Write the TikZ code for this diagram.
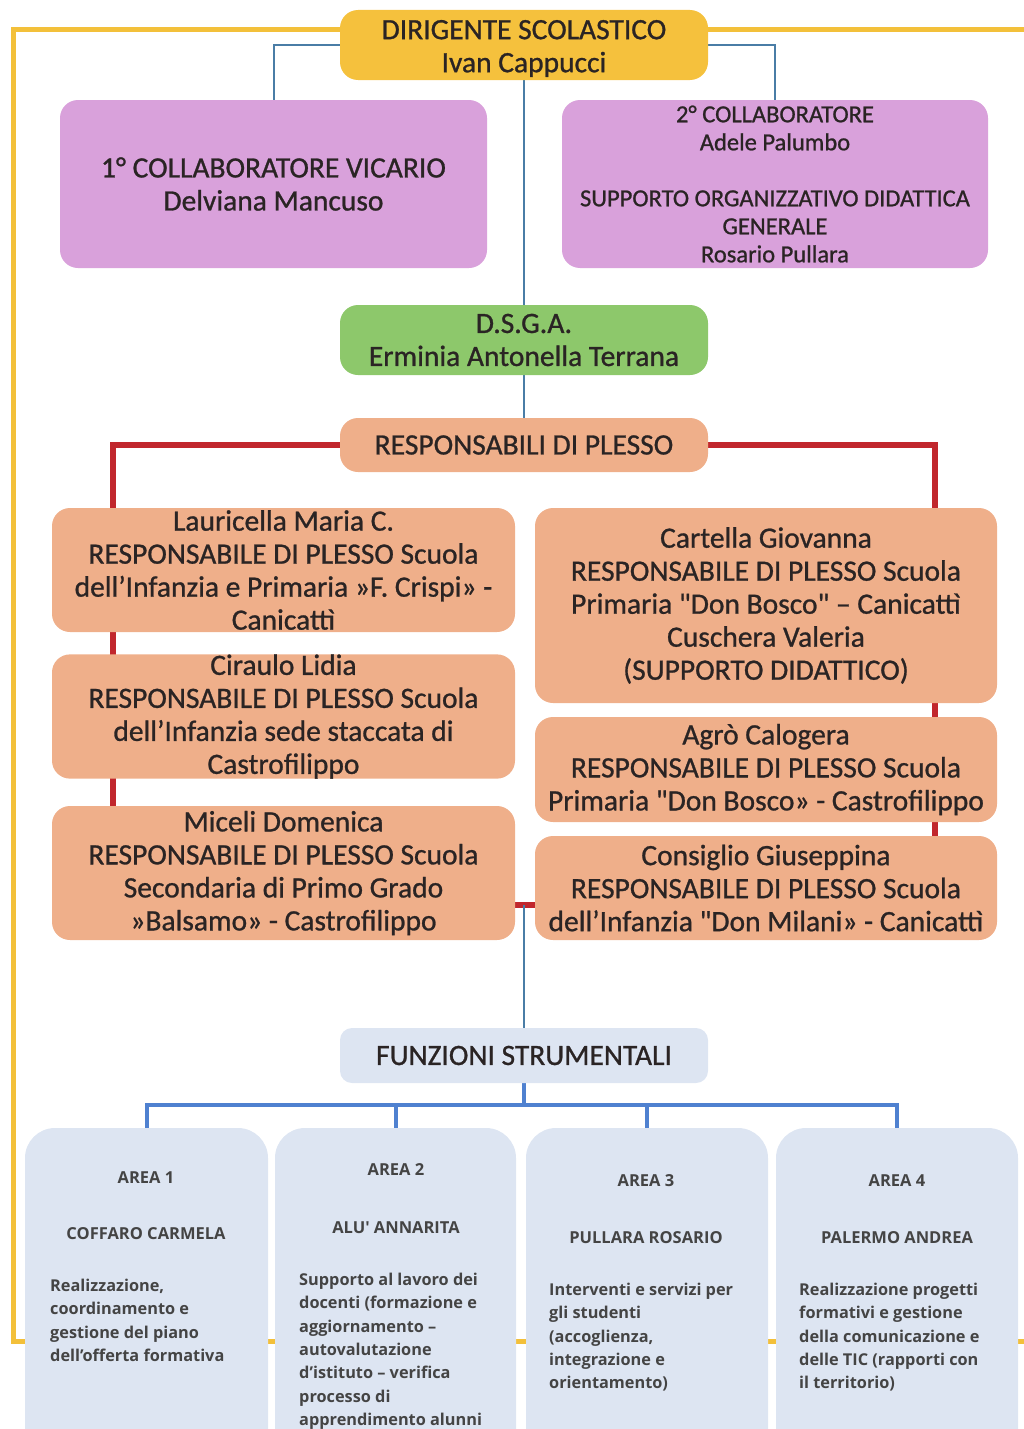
\documentclass[tikz,border=0pt]{standalone}
\usepackage{fontspec}
\setmainfont{Carlito}[Ligatures=TeXOff, FakeBold=0.9]
\newfontfamily\areafont{Open Sans}
\usetikzlibrary{backgrounds}
\definecolor{gold}{HTML}{F5C13D}
\definecolor{frameyel}{HTML}{F3C03A}
\definecolor{purp}{HTML}{D9A1DB}
\definecolor{grn}{HTML}{8DC86B}
\definecolor{salm}{HTML}{EFAF8A}
\definecolor{redl}{HTML}{C1272D}
\definecolor{bluetop}{HTML}{4A7DA6}
\definecolor{bluebot}{HTML}{4F81D0}
\definecolor{lblue}{HTML}{DDE5F2}
\definecolor{txt}{HTML}{2A2424}
\definecolor{atxt}{HTML}{444444}
\tikzset{
  box/.style={rounded corners=18pt, inner sep=0pt, align=center, text=txt,
    font=\fontsize{29.5}{33}\selectfont},
  dirbox/.style={box, fill=gold},
  purpbox/.style={box, fill=purp},
  grnbox/.style={box, fill=grn},
  salmbox/.style={box, fill=salm},
  fsbox/.style={box, fill=lblue, rounded corners=12pt},
  areabox/.style={rounded corners=30pt, fill=lblue, inner sep=0pt},
  ahead/.style={inner sep=0pt, text=atxt, font=\areafont\bfseries\fontsize{16.5}{20}\selectfont},
  adesc/.style={inner sep=0pt, text=atxt, align=left, font=\areafont\bfseries\fontsize{16.3}{23.3}\selectfont},
  topline/.style={draw=bluetop, line width=2pt},
  botline/.style={draw=bluebot, line width=4pt},
  redline/.style={draw=redl, line width=6pt},
  yelline/.style={draw=frameyel, line width=5pt}
}
\begin{document}
\begin{tikzpicture}[x=1pt,y=-1pt]
\useasboundingbox (0,0) rectangle (1024,1429);
\clip (0,0) rectangle (1024,1429);

% top
\node[dirbox, minimum width=368, minimum height=70] (dir) at (524,45) {};
\node[inner sep=0pt, align=center, text=txt, font=\fontsize{29.5}{33}\selectfont] (dirt) at (524,48.5) {DIRIGENTE SCOLASTICO\\Ivan Cappucci};
\node[purpbox, minimum width=427, minimum height=168] (c1) at (273.5,184) {1° COLLABORATORE VICARIO\\Delviana Mancuso};
\node[purpbox, minimum width=426, minimum height=168, font=\fontsize{24.5}{28}\selectfont] (c2) at (775,184)
  {2° COLLABORATORE\\Adele Palumbo\\[28pt]SUPPORTO ORGANIZZATIVO DIDATTICA\\GENERALE\\Rosario Pullara};
\node[grnbox, minimum width=368, minimum height=70] (dsga) at (524,340) {D.S.G.A.\\Erminia Antonella Terrana};
\node[salmbox, minimum width=368, minimum height=54] (resp) at (524,445) {RESPONSABILI DI PLESSO};

% left column
\node[salmbox, minimum width=463, minimum height=124] (l1) at (283.5,570)
  {Lauricella Maria C.\\RESPONSABILE DI PLESSO Scuola\\dell’Infanzia e Primaria »F. Crispi» -\\Canicattì};
\node[salmbox, minimum width=463, minimum height=123] (l2) at (283.5,716.5)
  {Ciraulo Lidia\\RESPONSABILE DI PLESSO Scuola\\dell’Infanzia sede staccata di\\Castrofilippo};
\node[salmbox, minimum width=463, minimum height=134] (l3) at (283.5,873)
  {Miceli Domenica\\RESPONSABILE DI PLESSO Scuola\\Secondaria di Primo Grado\\»Balsamo» - Castrofilippo};
% right column
\node[salmbox, minimum width=462, minimum height=195] (r1) at (766,605.5)
  {Cartella Giovanna\\RESPONSABILE DI PLESSO Scuola\\Primaria "Don Bosco" – Canicattì\\Cuschera Valeria\\(SUPPORTO DIDATTICO)};
\node[salmbox, minimum width=462, minimum height=105] (r2) at (766,769.5)
  {Agrò Calogera\\RESPONSABILE DI PLESSO Scuola\\Primaria "Don Bosco» - Castrofilippo};
\node[salmbox, minimum width=462, minimum height=104] (r3) at (766,888)
  {Consiglio Giuseppina\\RESPONSABILE DI PLESSO Scuola\\dell’Infanzia "Don Milani» - Canicattì};

% funzioni
\node[fsbox, minimum width=368, minimum height=55] (fs) at (524,1055.5) {FUNZIONI STRUMENTALI};

% areas
\node[areabox, minimum width=243, minimum height=342] (a1) at (146.5,1299) {};
\node[areabox, minimum width=241, minimum height=342] (a2) at (395.5,1299) {};
\node[areabox, minimum width=242, minimum height=342] (a3) at (647,1299) {};
\node[areabox, minimum width=242, minimum height=342] (a4) at (897,1299) {};

\node[ahead] (a1h) at (146,1178) {AREA 1};
\node[ahead] (a1n) at (146,1234) {COFFARO CARMELA};
\node[adesc, anchor=north west] (a1d) at (50,1279)
  {Realizzazione,\\coordinamento e\\gestione del piano\\dell’offerta formativa};

\node[ahead] (a2h) at (396,1170) {AREA 2};
\node[ahead] (a2n) at (396,1228) {ALU' ANNARITA};
\node[adesc, anchor=north west] (a2d) at (299,1273)
  {Supporto al lavoro dei\\docenti (formazione e\\aggiornamento –\\autovalutazione\\d’istituto – verifica\\processo di\\apprendimento alunni};

\node[ahead] (a3h) at (646,1181) {AREA 3};
\node[ahead] (a3n) at (646,1238) {PULLARA ROSARIO};
\node[adesc, anchor=north west] (a3d) at (549,1283)
  {Interventi e servizi per\\gli studenti\\(accoglienza,\\integrazione e\\orientamento)};

\node[ahead] (a4h) at (897,1181) {AREA 4};
\node[ahead] (a4n) at (897,1238) {PALERMO ANDREA};
\node[adesc, anchor=north west] (a4d) at (799,1283)
  {Realizzazione progetti\\formativi e gestione\\della comunicazione e\\delle TIC (rapporti con\\il territorio)};

\coordinate (rl) at (113,905);
\coordinate (rr) at (935,905);
\coordinate (rj) at (524,905);
\coordinate (fj) at (524,1105);

\begin{scope}[on background layer]
  \draw[yelline] (1030,30) -- (13,30) -- (13,1341) -- (1030,1341);
  \draw[topline] (dir.west) -| (c1.north);
  \draw[topline] (dir.east) -| (c2.north);
  \draw[topline] (dir.south) -- (dsga.north);
  \draw[topline] (dsga.south) -- (resp.north);
  \draw[redline] (resp.west) -| (rl) -- (rr) |- (resp.east);
  \draw[topline] (rj) -- (fs.north);
  \draw[botline] (fs.south) -- (fj);
  \draw[botline] (a1.north) |- (fj) -| (a4.north);
  \draw[botline] (a2.north) -- (a2.north |- fj);
  \draw[botline] (a3.north) -- (a3.north |- fj);
\end{scope}
\end{tikzpicture}
\end{document}
